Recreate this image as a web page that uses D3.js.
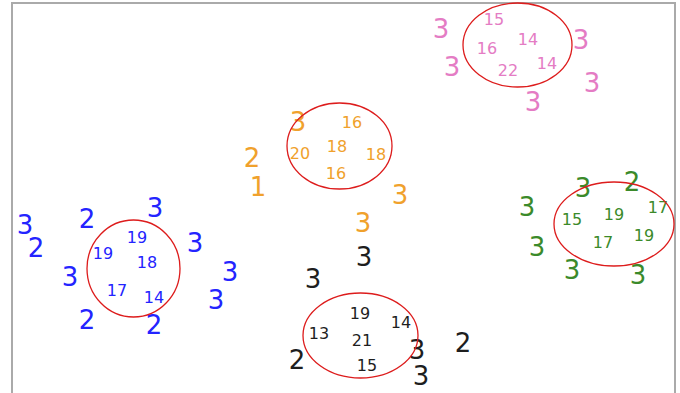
<!DOCTYPE html>
<html>
<head>
<meta charset="utf-8">
<script src="https://cdn.jsdelivr.net/npm/d3@7"></script>
<style>
  html, body { margin: 0; padding: 0; background: #fff; }
  svg { display: block; }
  text { font-family: "DejaVu Sans", sans-serif; }
</style>
</head>
<body>
<div id="chart"></div>
<script>
// label positions in plot units (x right, y down)
const blueBig = [[13,222,"3"],[24,245,"2"],[75,216,"2"],[143,205,"3"],[183,240,"3"],[218,269,"3"],[204,297,"3"],[58,274,"3"],[75,317,"2"],[142,322,"2"]];
const blueSmall = [[125,234,"19"],[91,250,"19"],[135,259,"18"],[105,287,"17"],[142,294,"14"]];
const blueEllipse = [121.5, 265.5, 46.5, 48.5];

const orangeBig = [[286,119,"3"],[240,155,"2"],[246,184,"1"],[388,192,"3"],[351,220,"3"]];
const orangeSmall = [[340,119,"16"],[288,150,"20"],[325,143,"18"],[364,151,"18"],[324,170,"16"]];
const orangeEllipse = [327.5, 143, 52.5, 43];

const pinkBig = [[429,26,"3"],[440,64,"3"],[569,37,"3"],[580,80,"3"],[521,99,"3"]];
const pinkSmall = [[482,16,"15"],[516,36,"14"],[475,45,"16"],[535,60,"14"],[496,67,"22"]];
const pinkEllipse = [505.5, 42, 54.5, 42];

const greenBig = [[515,204,"3"],[571,185,"3"],[620,179,"2"],[525,244,"3"],[560,267,"3"],[626,272,"3"]];
const greenSmall = [[560,216,"15"],[602,211,"19"],[646,204,"17"],[591,239,"17"],[632,232,"19"]];
const greenEllipse = [602, 221, 60, 42];

const blackBig = [[352,254,"3"],[301,276,"3"],[285,357,"2"],[405,347,"3"],[451,340,"2"],[409,373,"3"]];
const blackSmall = [[348,310,"19"],[307,330,"13"],[389,319,"14"],[350,337,"21"],[355,362,"15"]];
const blackEllipse = [348.5, 332.5, 57.5, 42.5];

const groups = [
  {big: blueBig, small: blueSmall, ell: blueEllipse, color: "#2424ff"},
  {big: orangeBig, small: orangeSmall, ell: orangeEllipse, color: "#f0a12c"},
  {big: pinkBig, small: pinkSmall, ell: pinkEllipse, color: "#e47cc4"},
  {big: greenBig, small: greenSmall, ell: greenEllipse, color: "#3b8a2a"},
  {big: blackBig, small: blackSmall, ell: blackEllipse, color: "#1e1e1e"}
];

const width = 680;
const height = 393;

const x = d3.scaleLinear().domain([0, 663]).range([12, 675]);
const y = d3.scaleLinear().domain([0, 400]).range([3, 403]);

const svg = d3.select("#chart")
  .append("svg")
  .attr("width", width)
  .attr("height", height);

// frame
svg.append("rect")
  .attr("x", x(0))
  .attr("y", y(0))
  .attr("width", x(663) - x(0))
  .attr("height", y(400) - y(0))
  .attr("fill", "none")
  .attr("stroke", "#aaaaaa")
  .attr("stroke-width", 2);

groups.forEach(g => {
  const layer = svg.append("g");

  layer.selectAll("text.big")
    .data(g.big)
    .enter()
    .append("text")
    .attr("class", "big")
    .attr("x", d => x(d[0]))
    .attr("y", d => y(d[1]))
    .attr("dy", "0.36em")
    .attr("text-anchor", "middle")
    .style("font-size", "26px")
    .attr("fill", g.color)
    .text(d => d[2]);

  layer.selectAll("text.small")
    .data(g.small)
    .enter()
    .append("text")
    .attr("class", "small")
    .attr("x", d => x(d[0]))
    .attr("y", d => y(d[1]))
    .attr("dy", "0.36em")
    .attr("text-anchor", "middle")
    .style("font-size", "16px")
    .attr("fill", g.color)
    .text(d => d[2]);

  // cluster ellipse
  layer.append("ellipse")
    .attr("cx", x(g.ell[0]))
    .attr("cy", y(g.ell[1]))
    .attr("rx", x(g.ell[2]) - x(0))
    .attr("ry", y(g.ell[3]) - y(0))
    .attr("fill", "none")
    .attr("stroke", "#dd1c1c")
    .attr("stroke-width", 1.3);
});
</script>
</body>
</html>
